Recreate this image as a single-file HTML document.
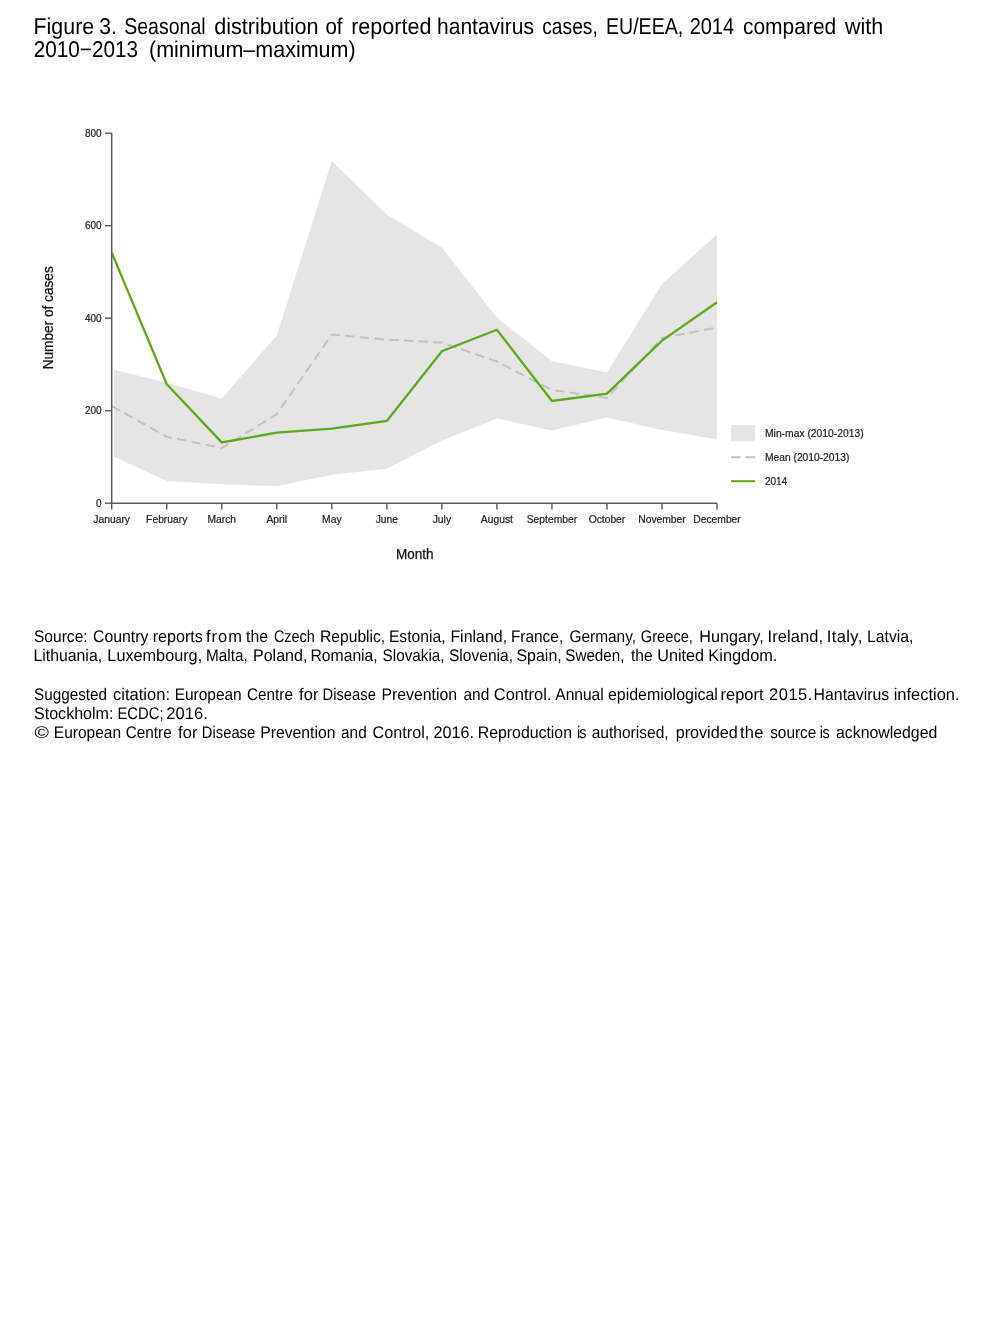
<!DOCTYPE html>
<html><head><meta charset="utf-8"><title>Figure 3</title>
<style>
html,body{margin:0;padding:0;background:#fff;}
body{width:1008px;height:1344px;overflow:hidden;}
svg{display:block;will-change:transform;}
text{font-family:"Liberation Sans",sans-serif;}
.t10{font-size:10px;fill:#222;stroke:#222;stroke-width:0.2px;}
.t13{font-size:14.4px;fill:#111;stroke:#111;stroke-width:0.25px;}
.tt{fill:#000;text-rendering:geometricPrecision;}
</style></head><body>
<svg width="1008" height="1344" viewBox="0 0 1008 1344">
<rect width="1008" height="1344" fill="#fff"/>
<text x="33.55" y="33.8" textLength="60.6" lengthAdjust="spacingAndGlyphs" style="font-size:22.9px" class="tt">Figure</text>
<text x="99.29" y="33.8" textLength="17.64" lengthAdjust="spacingAndGlyphs" style="font-size:22.9px" class="tt">3.</text>
<text x="124.21" y="33.8" textLength="81.39" lengthAdjust="spacingAndGlyphs" style="font-size:22.9px" class="tt">Seasonal</text>
<text x="214.29" y="33.8" textLength="104.31" lengthAdjust="spacingAndGlyphs" style="font-size:22.9px" class="tt">distribution</text>
<text x="325.44" y="33.8" textLength="17.13" lengthAdjust="spacingAndGlyphs" style="font-size:22.9px" class="tt">of</text>
<text x="351.17" y="33.8" textLength="80.22" lengthAdjust="spacingAndGlyphs" style="font-size:22.9px" class="tt">reported</text>
<text x="437.04" y="33.8" textLength="96.92" lengthAdjust="spacingAndGlyphs" style="font-size:22.9px" class="tt">hantavirus</text>
<text x="542.28" y="33.8" textLength="55.54" lengthAdjust="spacingAndGlyphs" style="font-size:22.9px" class="tt">cases,</text>
<text x="606.0" y="33.8" textLength="77.16" lengthAdjust="spacingAndGlyphs" style="font-size:22.9px" class="tt">EU/EEA,</text>
<text x="689.7" y="33.8" textLength="44.34" lengthAdjust="spacingAndGlyphs" style="font-size:22.9px" class="tt">2014</text>
<text x="742.91" y="33.8" textLength="93.34" lengthAdjust="spacingAndGlyphs" style="font-size:22.9px" class="tt">compared</text>
<text x="844.93" y="33.8" textLength="38.27" lengthAdjust="spacingAndGlyphs" style="font-size:22.9px" class="tt">with</text>
<text x="33.8" y="56.9" textLength="104.2" lengthAdjust="spacingAndGlyphs" style="font-size:22.9px" class="tt">2010&#8722;2013</text>
<text x="149.0" y="56.9" textLength="206.6" lengthAdjust="spacingAndGlyphs" style="font-size:22.9px" class="tt">(minimum&#8211;maximum)</text>
<text x="33.99" y="641.6" textLength="53.63" lengthAdjust="spacingAndGlyphs" style="font-size:16.8px" class="tt">Source:</text>
<text x="93.0" y="641.6" textLength="55.43" lengthAdjust="spacingAndGlyphs" style="font-size:16.8px" class="tt">Country</text>
<text x="152.63" y="641.6" textLength="50.26" lengthAdjust="spacingAndGlyphs" style="font-size:16.8px" class="tt">reports</text>
<text transform="translate(206.07,641.6) scale(0.9800,1)" x="0" y="0" style="font-size:16.8px;letter-spacing:0.983px" class="tt">from</text>
<text x="246.06" y="641.6" textLength="21.84" lengthAdjust="spacingAndGlyphs" style="font-size:16.8px" class="tt">the</text>
<text transform="translate(273.97,641.6) scale(0.8600,1)" x="0" y="0" style="font-size:16.8px;letter-spacing:-0.052px" class="tt">Czech</text>
<text x="320.02" y="641.6" textLength="65.19" lengthAdjust="spacingAndGlyphs" style="font-size:16.8px" class="tt">Republic,</text>
<text x="388.91" y="641.6" textLength="56.7" lengthAdjust="spacingAndGlyphs" style="font-size:16.8px" class="tt">Estonia,</text>
<text x="450.39" y="641.6" textLength="56.74" lengthAdjust="spacingAndGlyphs" style="font-size:16.8px" class="tt">Finland,</text>
<text x="510.94" y="641.6" textLength="52.25" lengthAdjust="spacingAndGlyphs" style="font-size:16.8px" class="tt">France,</text>
<text x="569.44" y="641.6" textLength="66.63" lengthAdjust="spacingAndGlyphs" style="font-size:16.8px" class="tt">Germany,</text>
<text x="640.86" y="641.6" textLength="52.05" lengthAdjust="spacingAndGlyphs" style="font-size:16.8px" class="tt">Greece,</text>
<text x="699.3" y="641.6" textLength="64.43" lengthAdjust="spacingAndGlyphs" style="font-size:16.8px" class="tt">Hungary,</text>
<text transform="translate(767.48,641.6) scale(0.9800,1)" x="0" y="0" style="font-size:16.8px;letter-spacing:0.100px" class="tt">Ireland,</text>
<text transform="translate(826.78,641.6) scale(0.9800,1)" x="0" y="0" style="font-size:16.8px;letter-spacing:0.394px" class="tt">Italy,</text>
<text x="867.0" y="641.6" textLength="46.51" lengthAdjust="spacingAndGlyphs" style="font-size:16.8px" class="tt">Latvia,</text>
<text x="33.4" y="660.7" textLength="68.72" lengthAdjust="spacingAndGlyphs" style="font-size:16.8px" class="tt">Lithuania,</text>
<text x="107.37" y="660.7" textLength="94.79" lengthAdjust="spacingAndGlyphs" style="font-size:16.8px" class="tt">Luxembourg,</text>
<text x="206.05" y="660.7" textLength="41.63" lengthAdjust="spacingAndGlyphs" style="font-size:16.8px" class="tt">Malta,</text>
<text x="252.99" y="660.7" textLength="54.35" lengthAdjust="spacingAndGlyphs" style="font-size:16.8px" class="tt">Poland,</text>
<text x="310.51" y="660.7" textLength="67.2" lengthAdjust="spacingAndGlyphs" style="font-size:16.8px" class="tt">Romania,</text>
<text x="382.61" y="660.7" textLength="61.97" lengthAdjust="spacingAndGlyphs" style="font-size:16.8px" class="tt">Slovakia,</text>
<text x="448.99" y="660.7" textLength="64.0" lengthAdjust="spacingAndGlyphs" style="font-size:16.8px" class="tt">Slovenia,</text>
<text x="516.48" y="660.7" textLength="45.26" lengthAdjust="spacingAndGlyphs" style="font-size:16.8px" class="tt">Spain,</text>
<text x="565.21" y="660.7" textLength="59.36" lengthAdjust="spacingAndGlyphs" style="font-size:16.8px" class="tt">Sweden,</text>
<text x="631.06" y="660.7" textLength="21.63" lengthAdjust="spacingAndGlyphs" style="font-size:16.8px" class="tt">the</text>
<text x="657.25" y="660.7" textLength="46.79" lengthAdjust="spacingAndGlyphs" style="font-size:16.8px" class="tt">United</text>
<text x="708.36" y="660.7" textLength="69.03" lengthAdjust="spacingAndGlyphs" style="font-size:16.8px" class="tt">Kingdom.</text>
<text x="34.01" y="699.6" textLength="73.08" lengthAdjust="spacingAndGlyphs" style="font-size:16.8px" class="tt">Suggested</text>
<text transform="translate(112.90,699.6) scale(0.9800,1)" x="0" y="0" style="font-size:16.8px;letter-spacing:0.059px" class="tt">citation:</text>
<text x="174.63" y="699.6" textLength="67.07" lengthAdjust="spacingAndGlyphs" style="font-size:16.8px" class="tt">European</text>
<text x="246.92" y="699.6" textLength="46.06" lengthAdjust="spacingAndGlyphs" style="font-size:16.8px" class="tt">Centre</text>
<text transform="translate(299.07,699.6) scale(0.9800,1)" x="0" y="0" style="font-size:16.8px;letter-spacing:0.048px" class="tt">for</text>
<text x="322.59" y="699.6" textLength="53.26" lengthAdjust="spacingAndGlyphs" style="font-size:16.8px" class="tt">Disease</text>
<text x="381.4" y="699.6" textLength="75.73" lengthAdjust="spacingAndGlyphs" style="font-size:16.8px" class="tt">Prevention</text>
<text x="463.44" y="699.6" textLength="25.86" lengthAdjust="spacingAndGlyphs" style="font-size:16.8px" class="tt">and</text>
<text transform="translate(493.76,699.6) scale(0.9800,1)" x="0" y="0" style="font-size:16.8px;letter-spacing:0.028px" class="tt">Control.</text>
<text x="555.27" y="699.6" textLength="48.47" lengthAdjust="spacingAndGlyphs" style="font-size:16.8px" class="tt">Annual</text>
<text x="607.92" y="699.6" textLength="109.94" lengthAdjust="spacingAndGlyphs" style="font-size:16.8px" class="tt">epidemiological</text>
<text x="720.61" y="699.6" textLength="42.91" lengthAdjust="spacingAndGlyphs" style="font-size:16.8px" class="tt">report</text>
<text transform="translate(768.97,699.6) scale(0.9800,1)" x="0" y="0" style="font-size:16.8px;letter-spacing:0.569px" class="tt">2015.</text>
<text x="813.6" y="699.6" textLength="75.67" lengthAdjust="spacingAndGlyphs" style="font-size:16.8px" class="tt">Hantavirus</text>
<text transform="translate(893.70,699.6) scale(0.9800,1)" x="0" y="0" style="font-size:16.8px;letter-spacing:0.001px" class="tt">infection.</text>
<text x="33.97" y="718.7" textLength="79.5" lengthAdjust="spacingAndGlyphs" style="font-size:16.8px" class="tt">Stockholm:</text>
<text x="117.38" y="718.7" textLength="46.15" lengthAdjust="spacingAndGlyphs" style="font-size:16.8px" class="tt">ECDC;</text>
<text transform="translate(166.37,718.7) scale(0.9800,1)" x="0" y="0" style="font-size:16.8px;letter-spacing:0.059px" class="tt">2016.</text>
<text x="34.4" y="738" textLength="14.4" lengthAdjust="spacingAndGlyphs" style="font-size:16.8px" class="tt">&#169;</text>
<text x="53.83" y="738" textLength="67.18" lengthAdjust="spacingAndGlyphs" style="font-size:16.8px" class="tt">European</text>
<text x="125.72" y="738" textLength="45.96" lengthAdjust="spacingAndGlyphs" style="font-size:16.8px" class="tt">Centre</text>
<text transform="translate(178.07,738) scale(0.9800,1)" x="0" y="0" style="font-size:16.8px;letter-spacing:0.099px" class="tt">for</text>
<text x="201.79" y="738" textLength="53.47" lengthAdjust="spacingAndGlyphs" style="font-size:16.8px" class="tt">Disease</text>
<text x="260.31" y="738" textLength="75.11" lengthAdjust="spacingAndGlyphs" style="font-size:16.8px" class="tt">Prevention</text>
<text x="341.05" y="738" textLength="25.64" lengthAdjust="spacingAndGlyphs" style="font-size:16.8px" class="tt">and</text>
<text x="372.58" y="738" textLength="56.68" lengthAdjust="spacingAndGlyphs" style="font-size:16.8px" class="tt">Control,</text>
<text x="433.49" y="738" textLength="40.39" lengthAdjust="spacingAndGlyphs" style="font-size:16.8px" class="tt">2016.</text>
<text x="477.7" y="738" textLength="94.33" lengthAdjust="spacingAndGlyphs" style="font-size:16.8px" class="tt">Reproduction</text>
<text transform="translate(576.93,738) scale(0.8600,1)" x="0" y="0" style="font-size:16.8px;letter-spacing:-1.099px" class="tt">is</text>
<text x="591.74" y="738" textLength="76.86" lengthAdjust="spacingAndGlyphs" style="font-size:16.8px" class="tt">authorised,</text>
<text x="675.66" y="738" textLength="61.98" lengthAdjust="spacingAndGlyphs" style="font-size:16.8px" class="tt">provided</text>
<text transform="translate(739.95,738) scale(0.9800,1)" x="0" y="0" style="font-size:16.8px;letter-spacing:0.354px" class="tt">the</text>
<text x="770.17" y="738" textLength="46.21" lengthAdjust="spacingAndGlyphs" style="font-size:16.8px" class="tt">source</text>
<text transform="translate(819.83,738) scale(0.8600,1)" x="0" y="0" style="font-size:16.8px;letter-spacing:-0.750px" class="tt">is</text>
<text x="836.03" y="738" textLength="101.29" lengthAdjust="spacingAndGlyphs" style="font-size:16.8px" class="tt">acknowledged</text>
<polygon points="114.00,369.76 166.73,382.70 221.76,398.40 276.79,335.50 331.82,160.90 386.85,214.50 441.88,247.80 496.91,317.50 551.94,361.20 606.97,372.40 662.00,283.90 717.03,234.30 717.03,439.20 662.00,429.90 606.97,417.40 551.94,430.40 496.91,418.50 441.88,440.50 386.85,468.70 331.82,474.80 276.79,486.30 221.76,484.30 166.73,481.00 114.00,456.76" fill="#e5e5e5"/>
<polyline points="111.70,406.00 166.73,436.70 221.76,448.00 276.79,414.20 331.82,334.50 386.85,339.70 441.88,342.60 496.91,361.50 551.94,390.00 606.97,398.00 662.00,338.00 717.03,327.40" fill="none" stroke="#c2c2c2" stroke-width="2" stroke-dasharray="9.4 5.3"/>
<polyline points="111.70,252.50 166.73,384.20 221.76,442.40 276.79,432.70 331.82,428.70 386.85,421.00 441.88,351.20 496.91,329.80 551.94,401.00 606.97,393.60 662.00,340.60 717.03,302.30" fill="none" stroke="#5ea91a" stroke-width="2.3" stroke-linejoin="miter"/>
<path d="M111.7,133 V503.2 M111.7,503.2 H717" stroke="#5a5a5a" stroke-width="1.5" fill="none"/>
<path d="M105,503.20 H111.7" stroke="#5a5a5a" stroke-width="1.4"/>
<text x="101.6" y="506.80" text-anchor="end" class="t10">0</text>
<path d="M105,410.70 H111.7" stroke="#5a5a5a" stroke-width="1.4"/>
<text x="101.6" y="414.30" text-anchor="end" class="t10">200</text>
<path d="M105,318.20 H111.7" stroke="#5a5a5a" stroke-width="1.4"/>
<text x="101.6" y="321.80" text-anchor="end" class="t10">400</text>
<path d="M105,225.70 H111.7" stroke="#5a5a5a" stroke-width="1.4"/>
<text x="101.6" y="229.30" text-anchor="end" class="t10">600</text>
<path d="M105,133.20 H111.7" stroke="#5a5a5a" stroke-width="1.4"/>
<text x="101.6" y="136.80" text-anchor="end" class="t10">800</text>
<path d="M111.70,503.2 V509.5" stroke="#5a5a5a" stroke-width="1.4"/>
<text x="93.38" y="522.9" textLength="36.64" lengthAdjust="spacingAndGlyphs" class="t10">January</text>
<path d="M166.73,503.2 V509.5" stroke="#5a5a5a" stroke-width="1.4"/>
<text x="146.12" y="522.9" textLength="41.22" lengthAdjust="spacingAndGlyphs" class="t10">February</text>
<path d="M221.76,503.2 V509.5" stroke="#5a5a5a" stroke-width="1.4"/>
<text x="207.45" y="522.9" textLength="28.62" lengthAdjust="spacingAndGlyphs" class="t10">March</text>
<path d="M276.79,503.2 V509.5" stroke="#5a5a5a" stroke-width="1.4"/>
<text x="266.49" y="522.9" textLength="20.61" lengthAdjust="spacingAndGlyphs" class="t10">April</text>
<path d="M331.82,503.2 V509.5" stroke="#5a5a5a" stroke-width="1.4"/>
<text x="322.09" y="522.9" textLength="19.46" lengthAdjust="spacingAndGlyphs" class="t10">May</text>
<path d="M386.85,503.2 V509.5" stroke="#5a5a5a" stroke-width="1.4"/>
<text x="375.68" y="522.9" textLength="22.34" lengthAdjust="spacingAndGlyphs" class="t10">June</text>
<path d="M441.88,503.2 V509.5" stroke="#5a5a5a" stroke-width="1.4"/>
<text x="432.72" y="522.9" textLength="18.32" lengthAdjust="spacingAndGlyphs" class="t10">July</text>
<path d="M496.91,503.2 V509.5" stroke="#5a5a5a" stroke-width="1.4"/>
<text x="480.88" y="522.9" textLength="32.07" lengthAdjust="spacingAndGlyphs" class="t10">August</text>
<path d="M551.94,503.2 V509.5" stroke="#5a5a5a" stroke-width="1.4"/>
<text x="526.75" y="522.9" textLength="50.38" lengthAdjust="spacingAndGlyphs" class="t10">September</text>
<path d="M606.97,503.2 V509.5" stroke="#5a5a5a" stroke-width="1.4"/>
<text x="588.65" y="522.9" textLength="36.64" lengthAdjust="spacingAndGlyphs" class="t10">October</text>
<path d="M662.00,503.2 V509.5" stroke="#5a5a5a" stroke-width="1.4"/>
<text x="638.24" y="522.9" textLength="47.51" lengthAdjust="spacingAndGlyphs" class="t10">November</text>
<path d="M717.03,503.2 V509.5" stroke="#5a5a5a" stroke-width="1.4"/>
<text x="693.27" y="522.9" textLength="47.51" lengthAdjust="spacingAndGlyphs" class="t10">December</text>
<text x="395.9" y="559" textLength="37.6" lengthAdjust="spacingAndGlyphs" class="t13">Month</text>
<text transform="translate(53.3,369.3) rotate(-90)" x="0" y="0" textLength="103" lengthAdjust="spacingAndGlyphs" class="t13">Number of cases</text>
<rect x="731" y="425" width="24" height="16.3" fill="#e5e5e5"/>
<path d="M731,457.2 H755" stroke="#c2c2c2" stroke-width="2" stroke-dasharray="9.6 4.8"/>
<path d="M731,481.2 H755" stroke="#5ea91a" stroke-width="2.1"/>
<text x="765.0" y="436.8" textLength="98.6" lengthAdjust="spacingAndGlyphs" class="t10">Min-max (2010-2013)</text>
<text x="765.0" y="460.8" textLength="84.3" lengthAdjust="spacingAndGlyphs" class="t10">Mean (2010-2013)</text>
<text x="765.0" y="484.8" class="t10">2014</text>
</svg>
</body></html>
